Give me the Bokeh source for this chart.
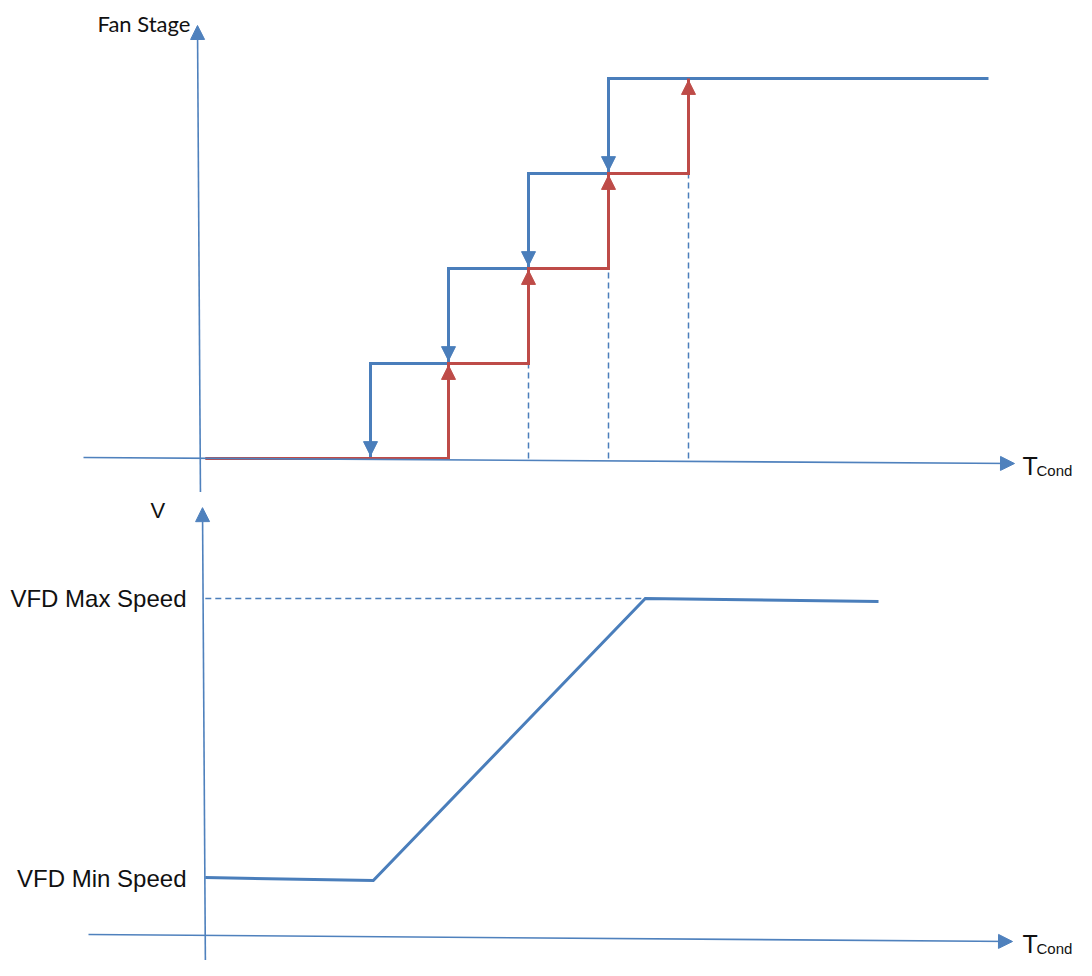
from bokeh.plotting import figure
from bokeh.models import Range1d, Arrow, NormalHead, Label
from bokeh.layouts import column
from bokeh.embed import file_html
from bokeh.resources import INLINE

# ---------------- data ----------------
# Fan stage diagram (temperature in arbitrary units, stage 0..4)
stage_levels = [0, 1, 2, 3, 4]
t_stage_on = [31, 41, 51, 61]        # red: stage-up thresholds
t_stage_off = [21.25, 31, 41, 51]    # blue: stage-down thresholds
t_red_start = 0.6
t_blue_end = 98.5

# VFD speed diagram
vfd_t = [0.6, 21.6, 55.6, 84.75]
vfd_v = [17.7, 16.8, 100.0, 99.1]
vfd_max = 100.0
vfd_min = 17.4
vfd_max_t = 55.6

BLUE = "#4A7EBB"
RED = "#BE4B48"
AXIS = "#4F81BD"
TXT = "#111111"

W = 1076
XR = (-25, 109.5)

# ---------------- top panel ----------------
p1 = figure(width=W, height=492, x_range=Range1d(*XR), y_range=Range1d(-0.358, 4.821),
            toolbar_location=None, output_backend="svg", min_border=0,
            x_axis_location=None, y_axis_location=None)
p1.grid.visible = False
p1.outline_line_color = None

# axes
p1.add_layout(Arrow(end=NormalHead(size=14, fill_color=AXIS, line_color=AXIS),
                    x_start=-14.625, y_start=0.01, x_end=101.75, y_end=-0.053,
                    line_color=AXIS, line_width=1.6))
p1.add_layout(Arrow(end=NormalHead(size=14, fill_color=AXIS, line_color=AXIS),
                    x_start=0, y_start=-0.44, x_end=-0.375, y_end=4.558,
                    line_color=AXIS, line_width=1.6))

# dashed guides
for i in range(1, len(t_stage_on)):
    p1.line([t_stage_on[i], t_stage_on[i]], [stage_levels[0], stage_levels[i]],
            line_color=BLUE, line_width=1.5, line_dash="6 4")

# blue (stage down) step line
bx, by = [], []
for i, t in enumerate(t_stage_off):
    bx += [t, t]
    by += [stage_levels[i], stage_levels[i + 1]]
bx.append(t_blue_end)
by.append(stage_levels[-1])
p1.line(bx, by, line_color=BLUE, line_width=3, line_join="miter")

# red (stage up) step line
rx, ry = [t_red_start], [stage_levels[0]]
for i, t in enumerate(t_stage_on):
    rx += [t, t]
    ry += [stage_levels[i], stage_levels[i + 1]]
p1.line(rx, ry, line_color=RED, line_width=3, line_join="miter")

# arrow heads
for i, t in enumerate(t_stage_off):
    p1.add_layout(Arrow(end=NormalHead(size=14, fill_color=BLUE, line_color=BLUE, line_width=1),
                        x_start=t, y_start=stage_levels[i + 1], x_end=t, y_end=stage_levels[i] + 0.03,
                        line_alpha=0))
for i, t in enumerate(t_stage_on):
    p1.add_layout(Arrow(end=NormalHead(size=14, fill_color=RED, line_color=RED, line_width=1),
                        x_start=t, y_start=stage_levels[i], x_end=t, y_end=stage_levels[i + 1] - 0.02,
                        line_alpha=0))

p1.add_layout(Label(x=-12.875, y=4.579, text="Fan Stage", text_font="Lato", text_font_size="22px",
                    text_color=TXT, text_baseline="middle", text_align="left"))
p1.add_layout(Label(x=102.75, y=-0.084, text="T", text_font="Liberation Sans", text_font_size="25px",
                    text_color=TXT, text_baseline="middle", text_align="left"))
p1.add_layout(Label(x=104.5, y=-0.126, text="Cond", text_font="Liberation Sans", text_font_size="15px",
                    text_color=TXT, text_baseline="middle", text_align="left"))

# ---------------- bottom panel ----------------
p2 = figure(width=W, height=468, x_range=Range1d(*XR), y_range=Range1d(-6.78, 131.27),
            toolbar_location=None, output_backend="svg", min_border=0,
            x_axis_location=None, y_axis_location=None)
p2.grid.visible = False
p2.outline_line_color = None

p2.add_layout(Arrow(end=NormalHead(size=14, fill_color=AXIS, line_color=AXIS),
                    x_start=-14, y_start=0.885, x_end=101.5, y_end=-1.18,
                    line_color=AXIS, line_width=1.6))
p2.add_layout(Arrow(end=NormalHead(size=14, fill_color=AXIS, line_color=AXIS),
                    x_start=0.625, y_start=-12, x_end=0.25, y_end=126.8,
                    line_color=AXIS, line_width=1.6))

p2.line([vfd_t[0], vfd_max_t], [vfd_max, vfd_max], line_color=BLUE, line_width=1.5, line_dash="6 4")
p2.line(vfd_t, vfd_v, line_color=BLUE, line_width=3, line_join="miter")

p2.add_layout(Label(x=-6.25, y=125.96, text="V", text_font="Liberation Sans", text_font_size="22px",
                    text_color=TXT, text_baseline="middle", text_align="left"))
p2.add_layout(Label(x=-1.75, y=vfd_max, text="VFD Max Speed", text_font="Liberation Sans",
                    text_font_size="24px", text_color=TXT, text_baseline="middle", text_align="right"))
p2.add_layout(Label(x=-1.75, y=vfd_min, text="VFD Min Speed", text_font="Liberation Sans",
                    text_font_size="24px", text_color=TXT, text_baseline="middle", text_align="right"))
p2.add_layout(Label(x=102.75, y=-1.92, text="T", text_font="Liberation Sans", text_font_size="25px",
                    text_color=TXT, text_baseline="middle", text_align="left"))
p2.add_layout(Label(x=104.5, y=-3.10, text="Cond", text_font="Liberation Sans", text_font_size="15px",
                    text_color=TXT, text_baseline="middle", text_align="left"))

layout = column(p1, p2, spacing=0)
open("out.html", "w").write(file_html(layout, INLINE))
